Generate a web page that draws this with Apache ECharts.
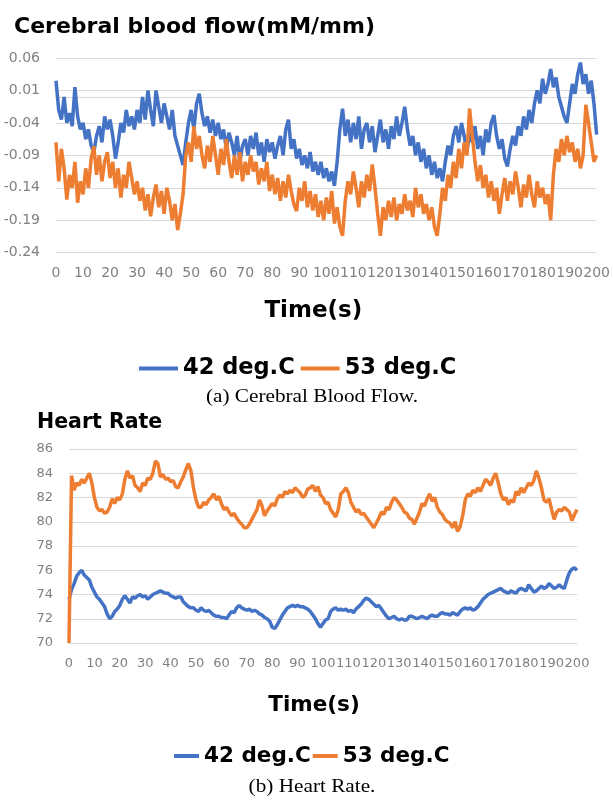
<!DOCTYPE html>
<html>
<head>
<meta charset="utf-8">
<script src="https://cdn.jsdelivr.net/npm/echarts@6/dist/echarts.min.js"></script>
<style>
html,body{margin:0;padding:0;background:#fff;}
#c{width:613px;height:800px;}
</style>
</head>
<body>
<div id="c"></div>
<script>
// sample times (s), one sample per second
const seconds = Array.from({length: 201}, (_, i) => i);

const seriesNames = ['42 deg.C', '53 deg.C'];

// Cerebral blood flow (mM/mm)
const cbf42 = [
 0.025,-0.02,-0.035,0.0,-0.04,-0.025,-0.045,0.015,-0.03,-0.05,
 -0.04,-0.065,-0.05,-0.075,-0.085,-0.06,-0.045,-0.07,-0.03,-0.05,
 -0.035,-0.06,-0.095,-0.07,-0.04,-0.055,-0.02,-0.045,-0.03,-0.05,
 -0.02,-0.04,0.0,-0.035,0.01,-0.02,-0.045,0.01,-0.015,-0.04,
 -0.01,-0.03,-0.05,-0.02,-0.06,-0.075,-0.09,-0.105,-0.07,-0.04,
 -0.02,-0.05,-0.01,0.005,-0.025,-0.045,-0.03,-0.055,-0.035,-0.06,
 -0.04,-0.065,-0.05,-0.08,-0.055,-0.07,-0.09,-0.06,-0.1,-0.075,
 -0.065,-0.09,-0.06,-0.08,-0.055,-0.09,-0.07,-0.1,-0.065,-0.085,
 -0.07,-0.095,-0.075,-0.06,-0.09,-0.05,-0.035,-0.08,-0.065,-0.095,
 -0.08,-0.105,-0.09,-0.11,-0.085,-0.115,-0.1,-0.12,-0.1,-0.125,
 -0.11,-0.13,-0.115,-0.137,-0.1,-0.05,-0.018,-0.06,-0.035,-0.07,
 -0.04,-0.065,-0.03,-0.08,-0.05,-0.04,-0.07,-0.045,-0.085,-0.06,
 -0.035,-0.07,-0.05,-0.08,-0.045,-0.065,-0.03,-0.06,-0.04,-0.015,
 -0.05,-0.075,-0.06,-0.09,-0.07,-0.1,-0.08,-0.11,-0.09,-0.12,
 -0.1,-0.125,-0.11,-0.13,-0.1,-0.075,-0.09,-0.06,-0.045,-0.07,
 -0.04,-0.06,-0.085,-0.055,-0.07,-0.045,-0.08,-0.06,-0.09,-0.05,
 -0.07,-0.04,-0.028,-0.06,-0.08,-0.065,-0.095,-0.107,-0.08,-0.06,
 -0.075,-0.045,-0.06,-0.03,-0.05,-0.02,-0.04,-0.01,0.01,-0.01,
 0.028,0.005,0.02,0.043,0.015,0.03,0.0,-0.015,-0.03,-0.04,
 -0.01,0.02,0.005,0.035,0.053,0.02,0.035,0.005,0.025,-0.01,
 -0.058
];
const cbf53 = [
 -0.07,-0.13,-0.08,-0.11,-0.158,-0.12,-0.14,-0.1,-0.163,-0.13,
 -0.15,-0.11,-0.14,-0.095,-0.076,-0.12,-0.09,-0.13,-0.1,-0.085,
 -0.125,-0.1,-0.14,-0.11,-0.155,-0.12,-0.14,-0.1,-0.125,-0.15,
 -0.13,-0.16,-0.14,-0.175,-0.15,-0.184,-0.155,-0.135,-0.17,-0.145,
 -0.18,-0.14,-0.16,-0.19,-0.165,-0.205,-0.18,-0.15,-0.09,-0.07,
 -0.1,-0.045,-0.08,-0.06,-0.09,-0.11,-0.075,-0.1,-0.06,-0.09,
 -0.12,-0.08,-0.105,-0.065,-0.1,-0.125,-0.09,-0.12,-0.085,-0.13,
 -0.1,-0.12,-0.09,-0.115,-0.1,-0.135,-0.11,-0.13,-0.1,-0.145,
 -0.12,-0.15,-0.125,-0.16,-0.13,-0.155,-0.12,-0.145,-0.165,-0.176,
 -0.14,-0.16,-0.13,-0.17,-0.145,-0.175,-0.15,-0.185,-0.16,-0.19,
 -0.155,-0.18,-0.145,-0.195,-0.17,-0.2,-0.214,-0.16,-0.13,-0.15,
 -0.115,-0.14,-0.17,-0.13,-0.155,-0.12,-0.145,-0.104,-0.14,-0.18,
 -0.214,-0.17,-0.19,-0.16,-0.185,-0.155,-0.19,-0.165,-0.18,-0.15,
 -0.175,-0.16,-0.185,-0.14,-0.17,-0.15,-0.18,-0.165,-0.19,-0.17,
 -0.2,-0.214,-0.18,-0.14,-0.16,-0.12,-0.14,-0.1,-0.125,-0.08,
 -0.11,-0.07,-0.09,-0.018,-0.06,-0.1,-0.13,-0.105,-0.14,-0.12,
 -0.155,-0.13,-0.16,-0.14,-0.18,-0.15,-0.125,-0.16,-0.13,-0.15,
 -0.115,-0.14,-0.17,-0.135,-0.155,-0.12,-0.15,-0.17,-0.13,-0.155,
 -0.14,-0.165,-0.15,-0.19,-0.12,-0.08,-0.1,-0.065,-0.09,-0.06,
 -0.085,-0.07,-0.1,-0.08,-0.11,-0.09,-0.012,-0.04,-0.07,-0.1,
 -0.09
];

// Heart rate (bpm)
const hr42 = [
 73.6,74.4,74.9,75.5,75.8,76.0,75.6,75.4,75.2,74.6,
 74.2,73.8,73.6,73.3,73.0,72.4,72.0,72.2,72.6,72.8,
 73.1,73.6,73.9,73.6,73.3,73.8,73.7,73.9,74.0,73.8,
 73.9,73.6,73.8,74.0,74.1,74.2,74.3,74.2,74.1,74.1,
 73.9,73.8,73.7,73.8,73.8,73.4,73.2,73.0,72.9,72.9,
 72.7,72.6,72.9,72.7,72.6,72.7,72.5,72.3,72.2,72.2,
 72.1,72.1,72.0,72.3,72.6,72.5,72.9,73.1,72.9,72.8,
 72.7,72.8,72.6,72.7,72.6,72.4,72.3,72.1,72.0,71.8,
 71.3,71.2,71.5,71.9,72.3,72.6,72.9,73.0,73.1,73.0,
 73.1,73.0,73.0,72.9,72.8,72.6,72.3,72.0,71.6,71.3,
 71.6,71.9,72.0,72.6,72.8,72.9,72.7,72.8,72.7,72.8,
 72.6,72.7,72.5,72.8,73.0,73.2,73.5,73.7,73.6,73.4,
 73.2,73.0,73.1,72.8,72.5,72.2,72.0,72.1,72.2,72.0,
 71.9,72.0,71.9,71.9,72.2,72.2,72.1,72.0,72.1,72.2,
 72.1,72.0,72.2,72.3,72.2,72.2,72.4,72.5,72.4,72.4,
 72.3,72.5,72.4,72.3,72.6,72.8,72.9,72.8,72.9,72.7,
 72.8,73.0,73.3,73.6,73.8,74.0,74.1,74.2,74.3,74.4,
 74.5,74.3,74.2,74.1,74.3,74.2,74.1,74.4,74.5,74.4,
 74.3,74.8,74.5,74.2,74.3,74.5,74.7,74.5,74.6,74.9,
 74.7,74.5,74.6,74.8,74.6,74.5,75.2,75.8,76.1,76.2,
 76.0
];
const hr53 = [
 70.0,83.8,82.6,83.2,83.0,83.5,83.2,83.6,84.0,83.2,
 82.0,81.2,80.9,81.0,80.7,80.8,81.2,81.9,81.5,82.0,
 81.8,82.3,83.5,84.2,83.6,83.8,83.0,82.8,82.5,83.2,
 83.0,83.6,83.5,84.0,85.0,84.8,83.7,83.9,83.5,83.6,
 83.3,83.4,82.9,82.8,83.3,83.7,84.3,84.8,84.2,82.8,
 81.8,81.2,81.2,81.6,81.4,81.8,82.0,82.3,81.8,82.1,
 81.5,81.0,81.2,80.8,80.5,80.7,80.3,80.0,79.8,79.5,
 79.5,79.8,80.2,80.6,81.0,81.8,81.3,80.5,80.9,81.2,
 81.5,81.3,81.9,82.2,82.0,82.5,82.3,82.6,82.4,82.8,
 82.6,82.4,82.0,82.2,82.7,82.8,83.0,82.5,82.9,82.2,
 82.0,81.5,81.6,81.0,80.7,80.4,81.0,82.3,82.5,82.8,
 82.4,81.6,81.2,80.8,81.0,80.6,80.7,80.4,80.1,79.8,
 79.5,79.9,80.3,80.8,80.6,81.2,81.0,81.6,82.0,81.8,
 81.5,81.2,80.8,80.7,80.3,80.2,79.8,80.3,80.8,81.5,
 81.3,81.9,82.3,81.7,82.0,81.2,80.8,80.6,80.2,80.0,
 79.9,79.5,80.0,79.2,79.6,80.5,81.8,82.3,82.1,82.6,
 82.4,82.8,82.5,83.0,83.5,83.3,83.0,83.6,84.0,83.2,
 82.3,81.8,82.0,81.4,81.8,81.6,82.5,82.2,82.8,82.4,
 82.8,83.2,83.0,83.4,84.2,83.6,82.8,81.8,81.6,81.9,
 81.0,80.2,80.8,81.0,80.9,81.2,81.0,80.8,80.1,80.6,
 81.0
];

const COLORS = ['#4472C4', '#ED7D31'];
const pair = (vals) => seconds.map((t, i) => [t, vals[i]]);

const chart = echarts.init(document.getElementById('c'), null, {renderer: 'canvas'});

const titleFont = {fontFamily: 'DejaVu Sans', fontWeight: 'bold', color: '#000'};
const tickFont = {fontFamily: 'DejaVu Sans', color: '#808080'};

function xAxisFor(gridIndex, fontSize, margin, nameGap, nameSize, shift) {
  return {
    type: 'value', gridIndex, min: 0, max: 200, interval: 10,
    name: 'Time(s)', nameLocation: 'middle', nameGap,
    nameTextStyle: Object.assign({fontSize: nameSize, padding: [0, shift, 0, 0]}, titleFont),
    axisLine: {show: true, lineStyle: {color: '#d9d9d9', width: 1}},
    axisTick: {show: false},
    splitLine: {show: false},
    axisLabel: Object.assign({fontSize, margin, hideOverlap: false}, tickFont)
  };
}

const option = {
  animation: false,
  backgroundColor: '#fff',
  color: COLORS,
  title: [
    {text: 'Cerebral blood flow(mM/mm)', left: 9, top: 11,
     textStyle: Object.assign({fontSize: 22}, titleFont)},
    {text: 'Heart Rate', left: 32, top: 407,
     textStyle: Object.assign({fontSize: 20.5}, titleFont)}
  ],
  legend: [
    {data: seriesNames, left: 134, top: 352, icon: 'rect', itemWidth: 39, itemHeight: 4, itemGap: 6,
     textStyle: Object.assign({fontSize: 22.5}, titleFont)},
    {data: seriesNames, left: 169, top: 740, icon: 'rect', itemWidth: 25, itemHeight: 4, itemGap: 2,
     textStyle: Object.assign({fontSize: 21.5}, titleFont)}
  ],
  grid: [
    {left: 56, right: 15, top: 58, height: 194.7},
    {left: 69, right: 36, top: 449, height: 194}
  ],
  xAxis: [
    xAxisFor(0, 14, 14, 47, 23, 26),
    xAxisFor(1, 13, 14, 51, 21.5, 18)
  ],
  yAxis: [
    {type: 'value', gridIndex: 0, min: -0.24, max: 0.06, interval: 0.05,
     axisLine: {show: false}, axisTick: {show: false},
     splitLine: {lineStyle: {color: '#d9d9d9', width: 1}},
     axisLabel: Object.assign({fontSize: 14, margin: 16, formatter: v => v.toFixed(2)}, tickFont)},
    {type: 'value', gridIndex: 1, min: 70, max: 86, interval: 2,
     axisLine: {show: false}, axisTick: {show: false},
     splitLine: {lineStyle: {color: '#d9d9d9', width: 1}},
     axisLabel: Object.assign({fontSize: 13, margin: 16}, tickFont)}
  ],
  series: [
    {name: seriesNames[0], type: 'line', xAxisIndex: 0, yAxisIndex: 0, data: pair(cbf42),
     showSymbol: false, lineStyle: {width: 3.5, color: COLORS[0]}, itemStyle: {color: COLORS[0]}},
    {name: seriesNames[1], type: 'line', xAxisIndex: 0, yAxisIndex: 0, data: pair(cbf53),
     showSymbol: false, lineStyle: {width: 3.5, color: COLORS[1]}, itemStyle: {color: COLORS[1]}},
    {name: seriesNames[0], type: 'line', xAxisIndex: 1, yAxisIndex: 1, data: pair(hr42),
     showSymbol: false, lineStyle: {width: 3.5, color: COLORS[0]}, itemStyle: {color: COLORS[0]}},
    {name: seriesNames[1], type: 'line', xAxisIndex: 1, yAxisIndex: 1, data: pair(hr53),
     showSymbol: false, lineStyle: {width: 3.5, color: COLORS[1]}, itemStyle: {color: COLORS[1]}}
  ],
  graphic: [
    {type: 'text', x: 312, y: 397, scaleX: 1.18,
     style: {text: '(a) Cerebral Blood Flow.', x: 0, y: 0, align: 'center', verticalAlign: 'middle',
             font: '18px "Liberation Serif", "Times New Roman", serif', fill: '#000'}},
    {type: 'text', x: 312, y: 787, scaleX: 1.18,
     style: {text: '(b) Heart Rate.', x: 0, y: 0, align: 'center', verticalAlign: 'middle',
             font: '18px "Liberation Serif", "Times New Roman", serif', fill: '#000'}}
  ]
};
chart.setOption(option);
</script>
</body>
</html>
